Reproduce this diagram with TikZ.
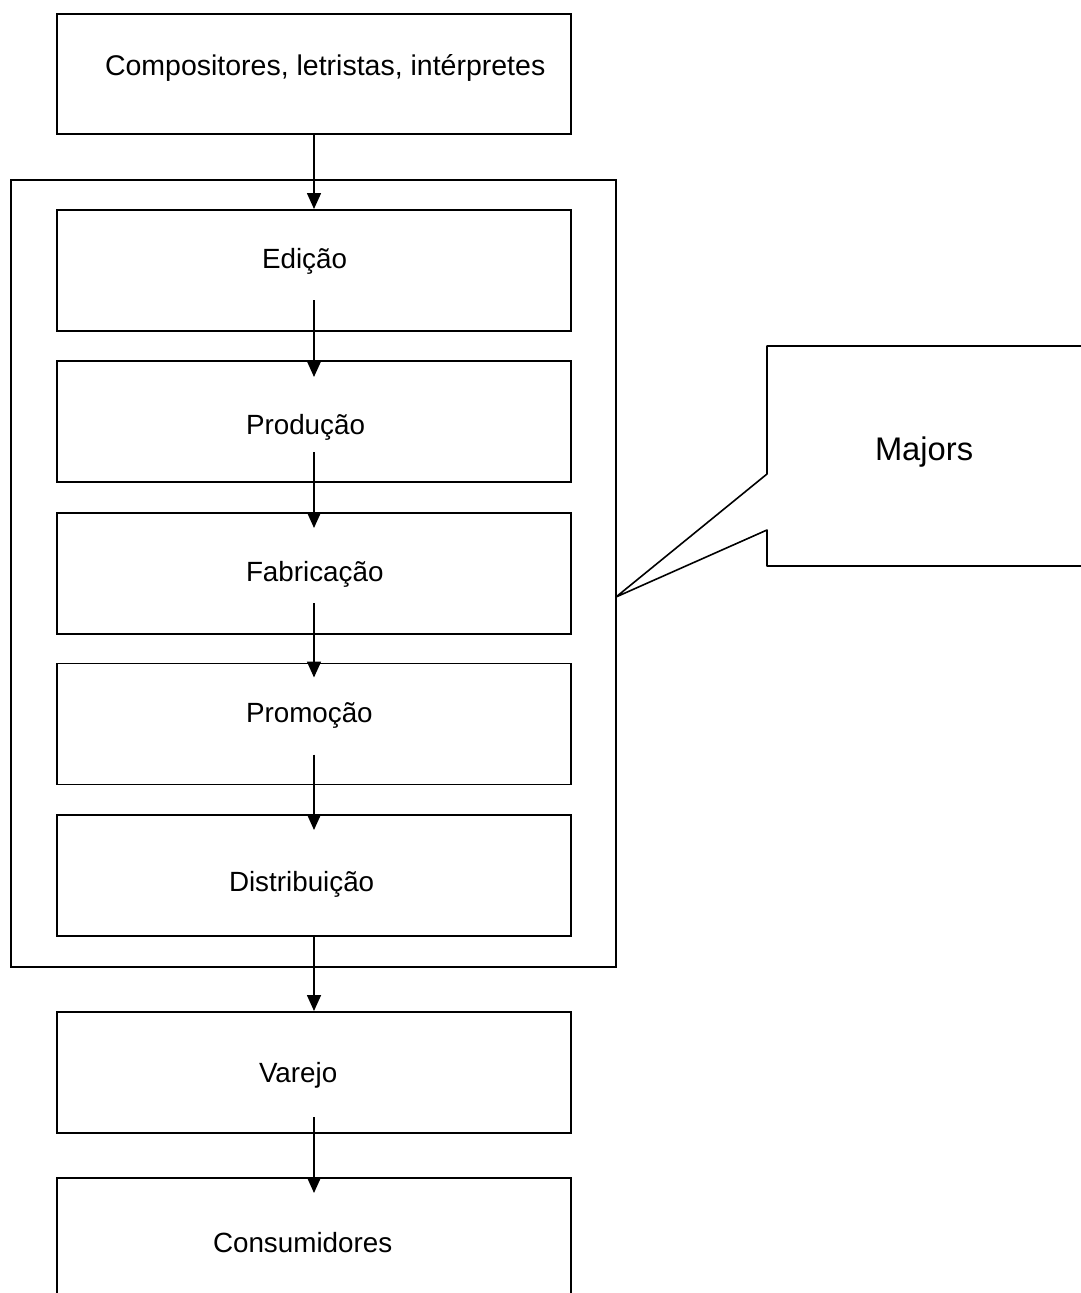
\documentclass[tikz,border=0pt]{standalone}
\usepackage{fontspec}
\setmainfont{Liberation Sans}
\usetikzlibrary{arrows.meta,calc}

\begin{document}
\begin{tikzpicture}[x=1pt,y=-1pt,
  every node/.style={inner sep=0pt,outer sep=0pt},
  stage/.style={draw,line width=1.6pt,minimum width=514pt,minimum height=121pt},
  frame/.style={draw,line width=1.6pt},
  caption/.style={anchor=base west,font=\fontsize{27.8}{32}\selectfont},
  bigcaption/.style={anchor=base west,font=\fontsize{32.7}{38}\selectfont},
  flow/.style={line width=1.6pt,-{Triangle[width=14pt,length=16pt]}}]

\useasboundingbox (0,0) rectangle (1081,1293);

% outer frame grouping the major-label activities
\node[frame,minimum width=605pt,minimum height=787pt] (majorsframe) at (313.5,573.5) {};

% chain of stages
\node[stage,minimum height=120pt] (autores) at (314,74) {};
\node[stage] (edicao)   at (314,270.5) {};
\node[stage] (producao) at (314,421.5) {};
\node[stage] (fabric)   at (314,573.5) {};
\node[stage] (promo)    at (314,724) {};
\node[stage] (distrib)  at (314,875.5) {};
\node[stage] (varejo)   at (314,1072.5) {};
\node[stage,minimum height=130pt] (consum) at (314,1243) {};

% stage captions
\node[caption,font=\fontsize{28.5}{33}\selectfont] (tautores) at (105,75) {Compositores, letristas, intérpretes};
\node[caption] (tedicao)  at (262,268) {Edição};
\node[caption] (tprod)    at (246,434) {Produção};
\node[caption] (tfabric)  at (246,581) {Fabricação};
\node[caption] (tpromo)   at (246,722) {Promoção};
\node[caption] (tdistrib) at (229,891) {Distribuição};
\node[caption] (tvarejo)  at (259,1082) {Varejo};
\node[caption] (tconsum)  at (213,1252) {Consumidores};

% connectors
\draw[flow] (autores.south) -- ($(edicao.north)+(0,-1)$);
\draw[flow] ($(edicao.south)+(0,-31)$) -- ($(producao.north)+(0,16)$);
\draw[flow] ($(producao.south)+(0,-30)$) -- ($(fabric.north)+(0,15)$);
\draw[flow] ($(fabric.south)+(0,-31)$) -- ($(promo.north)+(0,14)$);
\draw[flow] ($(promo.south)+(0,-30)$) -- ($(distrib.north)+(0,15)$);
\draw[flow] (distrib.south) -- ($(varejo.north)+(0,-1)$);
\draw[flow] ($(varejo.south)+(0,-16)$) -- ($(consum.north)+(0,15)$);

% callout pointing at the frame
\coordinate (tip) at (majorsframe.east |- 0,597);
\draw[line width=1.6pt,line join=round]
  (767,474) -- (767,346) -- (1090,346) -- (1090,566) -- (767,566)
  -- (767,530) -- (tip) -- cycle;
\node[bigcaption] (tmajors) at (875,460) {Majors};

\end{tikzpicture}
\end{document}
